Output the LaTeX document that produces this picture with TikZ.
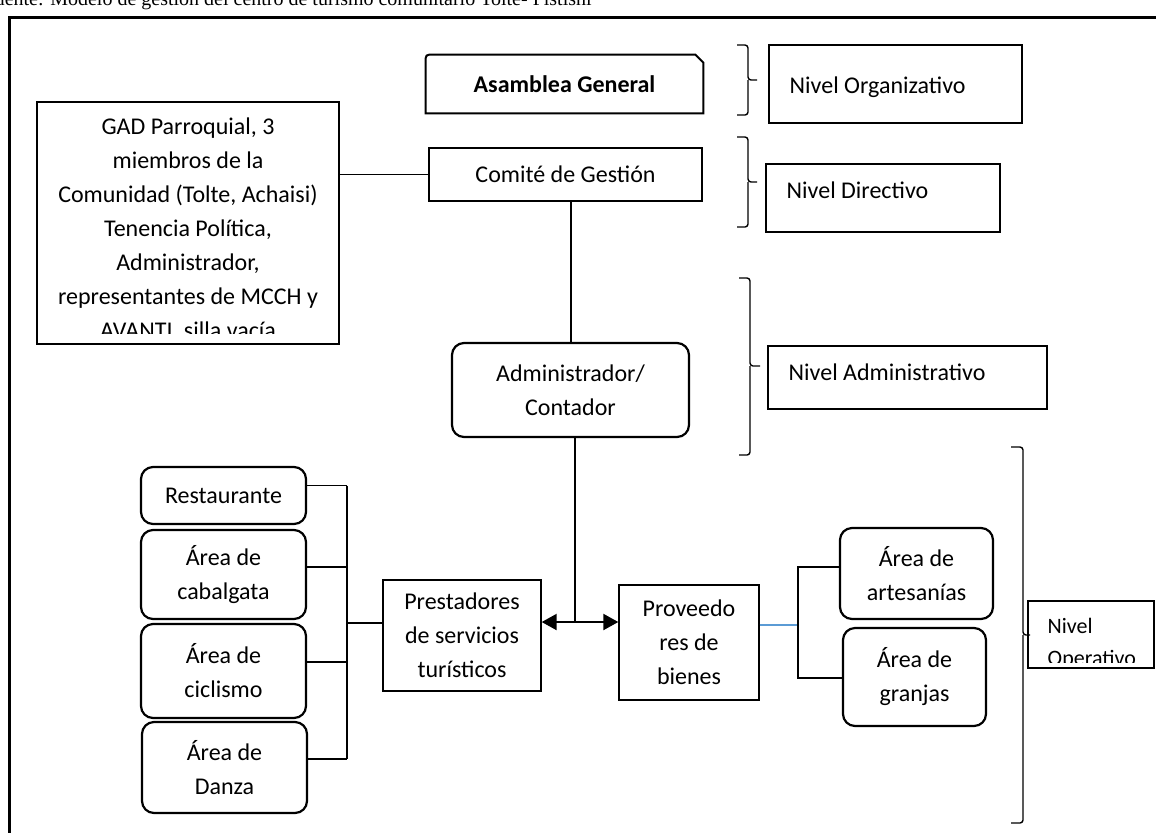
\documentclass[tikz,border=0pt]{standalone}
\usepackage{fontspec}
\setmainfont{Carlito}
\newfontfamily\fuenteserif{Liberation Serif}
\usetikzlibrary{arrows.meta}
\definecolor{lineaazul}{HTML}{5B9BD5}
\tikzset{
  caja/.style={draw, line width=0.7pt, inner sep=0pt, align=center},
  cajar/.style={caja, rounded corners=6pt, line width=1.1pt},
  nivel/.style={draw, line width=0.7pt, inner sep=0pt},
  texto/.style={inner sep=0pt, anchor=west, align=left},
  flecha/.style={{Triangle[length=7.5pt,width=8pt]}-{Triangle[length=7.5pt,width=8pt]}, line width=1.1pt},
}
\newcommand{\llave}[6]{\draw[line width=0.7pt, rounded corners=1.5pt] (#1,#4) -- (#2,#4) -- (#2,#5) -- (#3,#5) (#2,#5) -- (#2,#6) -- (#1,#6);}

\begin{document}
\begin{tikzpicture}[x=0.5pt, y=-0.5pt, font=\fontsize{12}{17}\selectfont]
\useasboundingbox (0,0) rectangle (1156,832);
\clip (0,0) rectangle (1156,832);
\node[anchor=base east, inner sep=0pt, font=\fuenteserif\fontsize{10}{10}\selectfont] (fuente) at (592,5) {Fuente: Modelo de gestión del centro de turismo comunitario Tolte- Pistishi};
\draw[line width=1.5pt] (9,900) -- (9,17) -- (1200,17);

\node[inner sep=0pt, minimum width=138.5pt, minimum height=29pt, font=\bfseries\fontsize{12}{17}\selectfont] (asam) at (564.5,84) {Asamblea General};
\draw[line width=1pt] (asam.south west) -- ([yshift=-4pt]asam.north west) .. controls (asam.north west) .. ([xshift=4pt]asam.north west) -- ([xshift=-4pt]asam.north east) -- ([yshift=-4pt]asam.north east) -- (asam.south east) -- cycle;
\node[caja, minimum width=136.5pt, minimum height=26.5pt] (comite) at (565.5,174.5) {Comité de Gestión};
\node[cajar, minimum width=118.5pt, minimum height=47pt] (admin) at (570.5,390) {Administrador/\\Contador};

\begin{scope}
\clip (37,102) rectangle (339,333);
\node[inner sep=0pt, align=center] (gadtexto) at (188,230) {GAD Parroquial, 3\\miembros de la\\Comunidad (Tolte, Achaisi)\\Tenencia Política,\\Administrador,\\representantes de MCCH y\\AVANTI, silla vacía};
\end{scope}
\node[caja, minimum width=151pt, minimum height=121pt] (gad) at (188,223) {};

\node[nivel, minimum width=126.5pt, minimum height=39pt] (nivorg) at (895.5,84) {};
\node[texto] (torg) at ([xshift=10.5pt, yshift=-1.5pt]nivorg.west) {Nivel Organizativo};
\node[nivel, minimum width=117pt, minimum height=34pt] (nivdir) at (883,198) {};
\node[texto] (tdir) at ([xshift=10.5pt, yshift=4pt]nivdir.west) {Nivel Directivo};
\node[nivel, minimum width=139.5pt, minimum height=31.5pt] (nivadm) at (907.5,377.5) {};
\node[texto] (tadm) at ([xshift=10.5pt, yshift=2.75pt]nivadm.west) {Nivel Administrativo};
\node[nivel, minimum width=63pt, minimum height=33.5pt] (nivope) at (1091,634.5) {};
\begin{scope}
\clip (nivope.north west) rectangle ([yshift=3pt]nivope.south east);
\node[texto, font=\fontsize{11}{16}\selectfont] (tope) at ([xshift=10pt, yshift=-4.5pt]nivope.west) {Nivel\\Operativo};
\end{scope}

\llave{737}{748}{757}{45}{80}{115}
\llave{737}{748}{757}{137}{182}{227}
\llave{739}{750}{760}{278}{366}{455}
\llave{1011}{1023}{1030}{447}{635}{823}

\node[cajar, minimum width=82.5pt, minimum height=28.5pt] (rest) at (223.5,495.5) {Restaurante};
\node[cajar, minimum width=82.5pt, minimum height=44.5pt] (cabal) at (223.5,574.5) {Área de\\cabalgata};
\node[cajar, minimum width=82.5pt, minimum height=47pt] (cicl) at (223.5,671) {Área de\\ciclismo};
\node[cajar, minimum width=82.5pt, minimum height=45.5pt] (danza) at (224.5,767.5) {Área de\\Danza};
\node[caja, minimum width=79pt, minimum height=55.5pt] (prest) at (462,635.5) {Prestadores\\de servicios\\turísticos};
\node[caja, minimum width=70pt, minimum height=57.5pt] (prov) at (689,642.5) {Proveedo\\res de\\bienes};
\node[cajar, minimum width=76.5pt, minimum height=45.5pt] (artes) at (916.5,573.5) {Área de\\artesanías};
\node[cajar, minimum width=71.5pt, minimum height=49pt] (granj) at (914.5,677) {Área de\\granjas};

\coordinate (eje) at (571,0);
\coordinate (cruce) at (575,622);
\coordinate (bl) at (347,623);
\coordinate (br) at (798,625);

\draw[line width=0.7pt] (gad.east |- comite.west) -- (comite.west);
\draw[line width=0.7pt] (comite.south -| eje) -- (admin.north -| eje);
\draw[line width=0.7pt] (admin.south -| cruce) -- (cruce);
\draw[flecha] (prest.east |- cruce) -- (prov.west |- cruce);

\foreach \n/\d in {rest/5, cabal/3.75, cicl/4.5, danza/4.25}
  \draw[line width=0.7pt] ([yshift=\d pt]\n.east) -- ([yshift=\d pt]\n.east -| bl);
\draw[line width=0.7pt] ([yshift=5pt]rest.east -| bl) -- ([yshift=4.25pt]danza.east -| bl);
\draw[line width=0.7pt] (bl) -- (prest.west |- bl);

\draw[lineaazul, line width=0.7pt] (prov.east |- br) -- (br);
\draw[line width=0.7pt] ([yshift=3.25pt]artes.west) -- ([yshift=3.25pt]artes.west -| br) -- ([yshift=-0.5pt]granj.west -| br) -- ([yshift=-0.5pt]granj.west);
\end{tikzpicture}
\end{document}
